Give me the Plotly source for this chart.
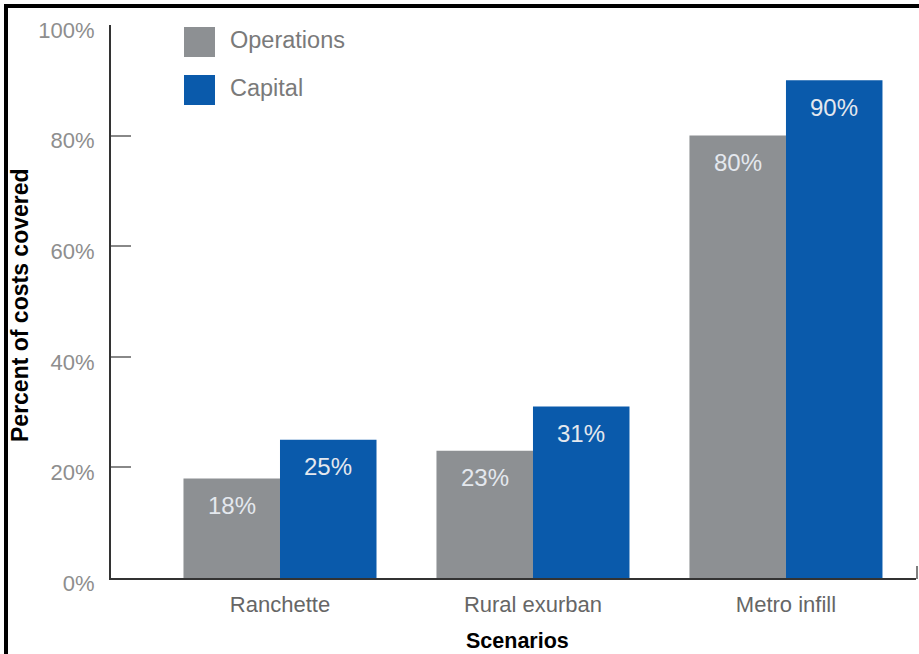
import plotly.graph_objects as go

categories = ["Ranchette", "Rural exurban", "Metro infill"]
series_names = ["Operations", "Capital"]
operations = [18, 23, 80]
capital = [25, 31, 90]
tick_vals = [0, 20, 40, 60, 80, 100]
tick_text = ["0%", "20%", "40%", "60%", "80%", "100%"]
x_title = "Scenarios"
y_title = "Percent of costs covered"

GRAY = "#8d9093"
BLUE = "#0a5aab"
FONT = "Liberation Sans"

W, H = 919, 654
L, R, T, B = 111, 3, 25, 76
PW, PH = W - L - R, H - T - B


def px(x):
    return (x - L) / PW


def py(y):
    return (H - B - y) / PH


fig = go.Figure()
for name, vals, col in [(series_names[0], operations, GRAY), (series_names[1], capital, BLUE)]:
    fig.add_trace(go.Bar(
        x=categories, y=vals, name=name, marker=dict(color=col, line=dict(width=0)),
        showlegend=False, hoverinfo="skip",
    ))

annotations = []
for vals, shift in [(operations, -48), (capital, 48)]:
    for c, v in zip(categories, vals):
        annotations.append(dict(
            x=c, y=v, xref="x", yref="y", text=f"{v}%", showarrow=False,
            xshift=shift, yshift=-27, yanchor="middle",
            font=dict(family=FONT, size=24, color="#e4e8ee"),
        ))

# legend drawn as large swatches
shapes = []
for i, (name, col) in enumerate(zip(series_names, [GRAY, BLUE])):
    y0 = 27 + i * 48
    shapes.append(dict(type="rect", xref="paper", yref="paper",
                       x0=px(184), x1=px(215), y0=py(y0 + 30), y1=py(y0),
                       fillcolor=col, line=dict(width=0)))
    annotations.append(dict(x=px(228), y=py(y0 + 13), xref="paper", yref="paper",
                            text=name, showarrow=False, xanchor="left", yanchor="middle",
                            font=dict(family=FONT, size=23.5, color="#7a7a7a")))

# axis titles
annotations.append(dict(x=px(20), y=py(305), xref="paper", yref="paper",
                        text=f"<b>{y_title}</b>", textangle=-90, showarrow=False,
                        xanchor="center", yanchor="middle",
                        font=dict(family=FONT, size=23, color="black")))
annotations.append(dict(x=px(517), y=py(641), xref="paper", yref="paper",
                        text=f"<b>{x_title}</b>", showarrow=False,
                        xanchor="center", yanchor="middle",
                        font=dict(family=FONT, size=21.5, color="black")))

# page frame (left and top borders)
shapes.append(dict(type="line", xref="paper", yref="paper",
                   x0=px(6), x1=px(6), y0=py(4), y1=py(H + 10),
                   line=dict(color="black", width=4)))
shapes.append(dict(type="line", xref="paper", yref="paper",
                   x0=px(4), x1=px(W + 10), y0=py(6), y1=py(6),
                   line=dict(color="black", width=4)))
# small end mark on x axis
shapes.append(dict(type="line", xref="paper", yref="paper",
                   x0=px(917), x1=px(917), y0=py(579), y1=py(566),
                   line=dict(color="#555", width=1.5)))

fig.update_layout(
    width=W, height=H,
    margin=dict(l=L, r=R, t=T, b=B, autoexpand=False),
    paper_bgcolor="white", plot_bgcolor="white",
    barmode="group", bargap=0.237, bargroupgap=0,
    shapes=shapes, annotations=annotations,
    font=dict(family=FONT),
)
fig.update_xaxes(
    range=[-0.668, 2.514], showline=True, linecolor="#333", linewidth=2,
    ticks="", showgrid=False, zeroline=False,
    tickfont=dict(family=FONT, size=22, color="#666"),
    ticklabelstandoff=6,
    automargin=False,
)
fig.update_yaxes(
    range=[0, 100], tickvals=tick_vals, ticktext=tick_text,
    showline=True, linecolor="#333", linewidth=2,
    ticks="inside", ticklen=20, tickcolor="#888", tickwidth=1.5,
    showgrid=False, zeroline=False,
    tickfont=dict(family=FONT, size=22, color="#8e8e8e"),
    ticklabelshift=5, ticklabelstandoff=10,
    automargin=False,
)

fig.write_html("out.html")
